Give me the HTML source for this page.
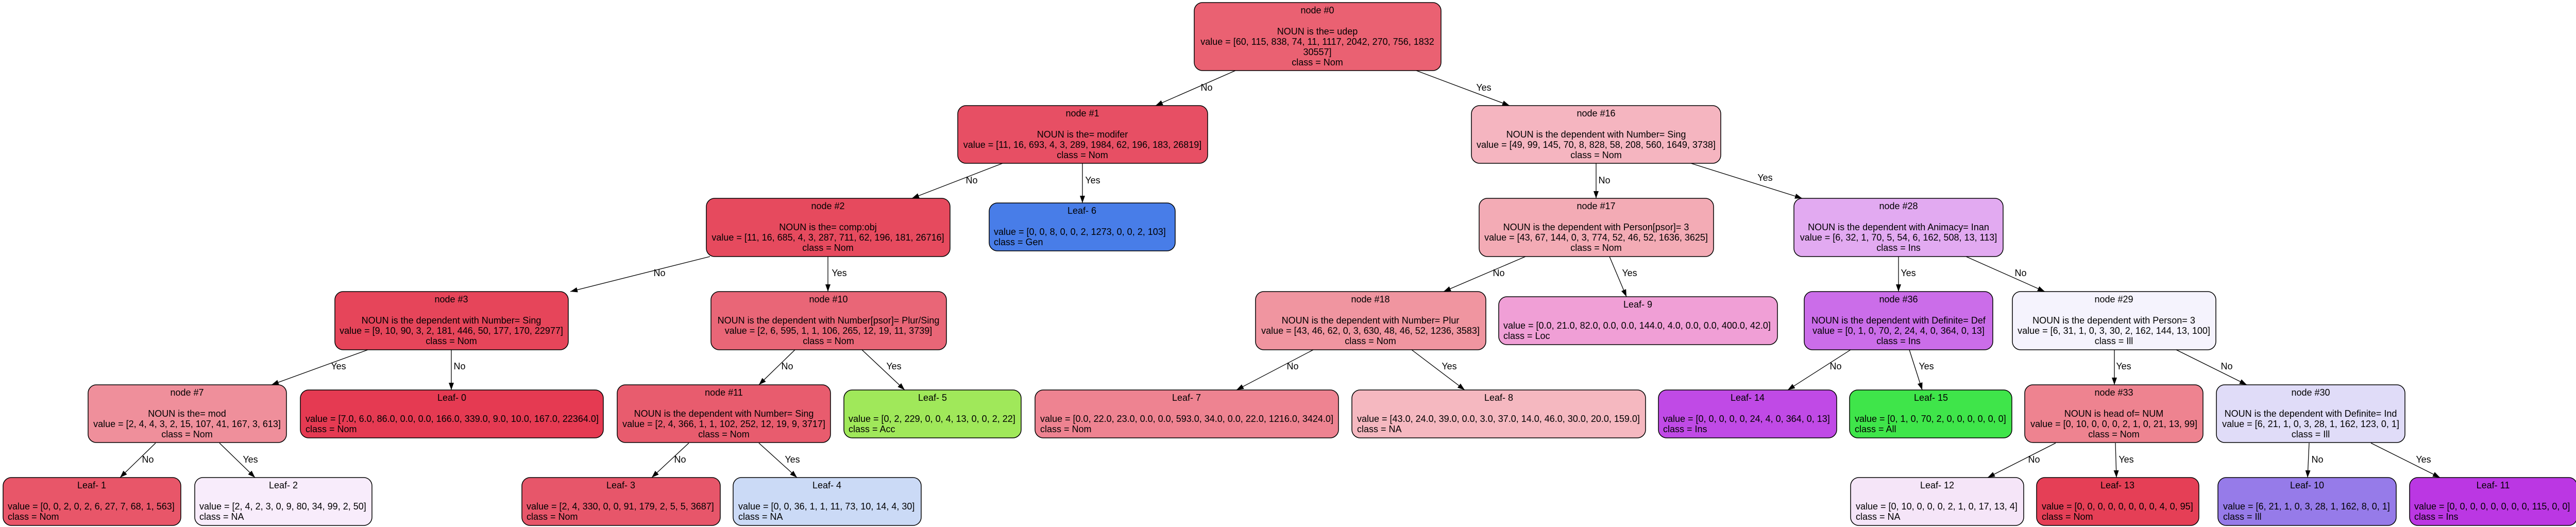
<!DOCTYPE html>
<html><head><meta charset="utf-8"><style>
html,body{margin:0;padding:0;background:#fff;}
svg{display:block;}
text{font-family:"Liberation Sans",Arial,sans-serif;font-size:18px;fill:#000;}
.c{text-anchor:middle;}
rect{stroke:#000;stroke-width:1.5;}
line{stroke:#000;stroke-width:1.3;}
</style></head><body>
<svg width="5009" height="1023" viewBox="0 0 5009 1023" xmlns="http://www.w3.org/2000/svg">
<defs><marker id="a" viewBox="0 0 14 10" refX="14" refY="5" markerWidth="14" markerHeight="10" markerUnits="userSpaceOnUse" orient="auto"><path d="M0,0 L14,5 L0,10 Z" fill="#000"/></marker></defs>

<g marker-end="url(#a)">
<line x1="2398" y1="137" x2="2243" y2="205"/>
<line x1="2749" y1="137" x2="2930" y2="205"/>
<line x1="1946" y1="317" x2="1770" y2="385"/>
<line x1="2101" y1="317" x2="2101" y2="394"/>
<line x1="3098" y1="317" x2="3098" y2="385"/>
<line x1="3282" y1="317" x2="3498" y2="385"/>
<line x1="1378" y1="498" x2="1107" y2="566"/>
<line x1="1607" y1="498" x2="1607" y2="566"/>
<line x1="2961" y1="498" x2="2802" y2="566"/>
<line x1="3124" y1="498" x2="3157" y2="576"/>
<line x1="3685" y1="498" x2="3685" y2="566"/>
<line x1="3816" y1="498" x2="3969" y2="566"/>
<line x1="714" y1="679" x2="527" y2="747"/>
<line x1="876" y1="679" x2="876" y2="757"/>
<line x1="1543" y1="679" x2="1473" y2="747"/>
<line x1="1673" y1="679" x2="1756" y2="757"/>
<line x1="2549" y1="679" x2="2400" y2="757"/>
<line x1="2740" y1="679" x2="2843" y2="757"/>
<line x1="3592" y1="679" x2="3470" y2="757"/>
<line x1="3706" y1="679" x2="3731" y2="757"/>
<line x1="4104" y1="679" x2="4104" y2="747"/>
<line x1="4224" y1="679" x2="4361" y2="747"/>
<line x1="302" y1="860" x2="233" y2="927"/>
<line x1="426" y1="860" x2="495" y2="927"/>
<line x1="1337" y1="860" x2="1265" y2="927"/>
<line x1="1473" y1="860" x2="1547" y2="927"/>
<line x1="3990" y1="860" x2="3858" y2="927"/>
<line x1="4106" y1="860" x2="4108" y2="927"/>
<line x1="4482" y1="860" x2="4479" y2="927"/>
<line x1="4602" y1="860" x2="4736" y2="927"/>
</g>
<g dominant-baseline="central" class="c">
<text class="c" x="2342" y="170">No</text>
<text class="c" x="2880" y="170">Yes</text>
<text class="c" x="1886" y="350">No</text>
<text class="c" x="2121" y="350">Yes</text>
<text class="c" x="3114" y="350">No</text>
<text class="c" x="3426" y="345">Yes</text>
<text class="c" x="1280" y="530">No</text>
<text class="c" x="1629" y="530">Yes</text>
<text class="c" x="2909" y="530">No</text>
<text class="c" x="3163" y="530">Yes</text>
<text class="c" x="3704" y="530">Yes</text>
<text class="c" x="3922" y="530">No</text>
<text class="c" x="657" y="711">Yes</text>
<text class="c" x="892" y="711">No</text>
<text class="c" x="1528" y="711">No</text>
<text class="c" x="1735" y="711">Yes</text>
<text class="c" x="2509" y="711">No</text>
<text class="c" x="2813" y="711">Yes</text>
<text class="c" x="3563" y="711">No</text>
<text class="c" x="3739" y="711">Yes</text>
<text class="c" x="4122" y="711">Yes</text>
<text class="c" x="4322" y="711">No</text>
<text class="c" x="287" y="892">No</text>
<text class="c" x="486" y="892">Yes</text>
<text class="c" x="1320" y="892">No</text>
<text class="c" x="1538" y="892">Yes</text>
<text class="c" x="3948" y="892">No</text>
<text class="c" x="4127" y="892">Yes</text>
<text class="c" x="4498" y="892">No</text>
<text class="c" x="4704" y="892">Yes</text>
</g>

<g dominant-baseline="central">
<rect x="2318" y="5" width="479" height="132" rx="16" fill="#ea6172"/>
<text class="c" x="2557" y="20">node #0</text>
<text class="c" x="2557" y="61">NOUN is the= udep</text>
<text class="c" x="2557" y="81">value = [60, 115, 838, 74, 11, 1117, 2042, 270, 756, 1832</text>
<text class="c" x="2557" y="101">30557]</text>
<text class="c" x="2557" y="121">class = Nom</text>

<rect x="1859" y="205" width="485" height="112" rx="16" fill="#e74f64"/>
<text class="c" x="2101" y="220">node #1</text>
<text class="c" x="2101" y="261">NOUN is the= modifer</text>
<text class="c" x="2101" y="281">value = [11, 16, 693, 4, 3, 289, 1984, 62, 196, 183, 26819]</text>
<text class="c" x="2101" y="301">class = Nom</text>

<rect x="2856" y="205" width="484" height="112" rx="16" fill="#f5b5c0"/>
<text class="c" x="3098" y="220">node #16</text>
<text class="c" x="3098" y="261">NOUN is the dependent with Number= Sing</text>
<text class="c" x="3098" y="281">value = [49, 99, 145, 70, 8, 828, 58, 208, 560, 1649, 3738]</text>
<text class="c" x="3098" y="301">class = Nom</text>

<rect x="1920" y="394" width="361" height="93" rx="16" fill="#487de8"/>
<text class="c" x="2100" y="409">Leaf- 6</text>
<text x="1929" y="450">value = [0, 0, 8, 0, 0, 2, 1273, 0, 0, 2, 103]</text>
<text x="1929" y="470">class = Gen</text>

<rect x="1371" y="385" width="473" height="113" rx="16" fill="#e64a5e"/>
<text class="c" x="1607" y="400">node #2</text>
<text class="c" x="1607" y="441">NOUN is the= comp:obj</text>
<text class="c" x="1607" y="461">value = [11, 16, 685, 4, 3, 287, 711, 62, 196, 181, 26716]</text>
<text class="c" x="1607" y="481">class = Nom</text>

<rect x="2871" y="385" width="455" height="113" rx="16" fill="#f3abb5"/>
<text class="c" x="3098" y="400">node #17</text>
<text class="c" x="3098" y="441">NOUN is the dependent with Person[psor]= 3</text>
<text class="c" x="3098" y="461">value = [43, 67, 144, 0, 3, 774, 52, 46, 52, 1636, 3625]</text>
<text class="c" x="3098" y="481">class = Nom</text>

<rect x="3482" y="385" width="406" height="113" rx="16" fill="#e2aaf1"/>
<text class="c" x="3685" y="400">node #28</text>
<text class="c" x="3685" y="441">NOUN is the dependent with Animacy= Inan</text>
<text class="c" x="3685" y="461">value = [6, 32, 1, 70, 5, 54, 6, 162, 508, 13, 113]</text>
<text class="c" x="3685" y="481">class = Ins</text>

<rect x="650" y="566" width="453" height="113" rx="16" fill="#e6455a"/>
<text class="c" x="876" y="581">node #3</text>
<text class="c" x="876" y="622">NOUN is the dependent with Number= Sing</text>
<text class="c" x="876" y="642">value = [9, 10, 90, 3, 2, 181, 446, 50, 177, 170, 22977]</text>
<text class="c" x="876" y="662">class = Nom</text>

<rect x="1380" y="566" width="457" height="113" rx="16" fill="#e96677"/>
<text class="c" x="1608" y="581">node #10</text>
<text class="c" x="1608" y="622">NOUN is the dependent with Number[psor]= Plur/Sing</text>
<text class="c" x="1608" y="642">value = [2, 6, 595, 1, 1, 106, 265, 12, 19, 11, 3739]</text>
<text class="c" x="1608" y="662">class = Nom</text>

<rect x="2437" y="566" width="447" height="113" rx="16" fill="#f095a0"/>
<text class="c" x="2660" y="581">node #18</text>
<text class="c" x="2660" y="622">NOUN is the dependent with Number= Plur</text>
<text class="c" x="2660" y="642">value = [43, 46, 62, 0, 3, 630, 48, 46, 52, 1236, 3583]</text>
<text class="c" x="2660" y="662">class = Nom</text>

<rect x="2909" y="576" width="541" height="93" rx="16" fill="#f09fd6"/>
<text class="c" x="3179" y="591">Leaf- 9</text>
<text x="2918" y="632">value = [0.0, 21.0, 82.0, 0.0, 0.0, 144.0, 4.0, 0.0, 0.0, 400.0, 42.0]</text>
<text x="2918" y="652">class = Loc</text>

<rect x="3502" y="566" width="366" height="113" rx="16" fill="#cb6de9"/>
<text class="c" x="3685" y="581">node #36</text>
<text class="c" x="3685" y="622">NOUN is the dependent with Definite= Def</text>
<text class="c" x="3685" y="642">value = [0, 1, 0, 70, 2, 24, 4, 0, 364, 0, 13]</text>
<text class="c" x="3685" y="662">class = Ins</text>

<rect x="3906" y="566" width="395" height="113" rx="16" fill="#f5f3fd"/>
<text class="c" x="4103" y="581">node #29</text>
<text class="c" x="4103" y="622">NOUN is the dependent with Person= 3</text>
<text class="c" x="4103" y="642">value = [6, 31, 1, 0, 3, 30, 2, 162, 144, 13, 100]</text>
<text class="c" x="4103" y="662">class = Ill</text>

<rect x="171" y="747" width="385" height="112" rx="16" fill="#ef8f9b"/>
<text class="c" x="363" y="762">node #7</text>
<text class="c" x="363" y="803">NOUN is the= mod</text>
<text class="c" x="363" y="823">value = [2, 4, 4, 3, 2, 15, 107, 41, 167, 3, 613]</text>
<text class="c" x="363" y="843">class = Nom</text>

<rect x="583" y="757" width="588" height="93" rx="16" fill="#e53a52"/>
<text class="c" x="877" y="772">Leaf- 0</text>
<text x="593" y="813">value = [7.0, 6.0, 86.0, 0.0, 0.0, 166.0, 339.0, 9.0, 10.0, 167.0, 22364.0]</text>
<text x="593" y="833">class = Nom</text>

<rect x="1198" y="747" width="414" height="112" rx="16" fill="#e85c6e"/>
<text class="c" x="1405" y="762">node #11</text>
<text class="c" x="1405" y="803">NOUN is the dependent with Number= Sing</text>
<text class="c" x="1405" y="823">value = [2, 4, 366, 1, 1, 102, 252, 12, 19, 9, 3717]</text>
<text class="c" x="1405" y="843">class = Nom</text>

<rect x="1638" y="757" width="344" height="93" rx="16" fill="#a0e85a"/>
<text class="c" x="1810" y="772">Leaf- 5</text>
<text x="1647" y="813">value = [0, 2, 229, 0, 0, 4, 13, 0, 0, 2, 22]</text>
<text x="1647" y="833">class = Acc</text>

<rect x="2009" y="757" width="589" height="93" rx="16" fill="#ee8391"/>
<text class="c" x="2303" y="772">Leaf- 7</text>
<text x="2019" y="813">value = [0.0, 22.0, 23.0, 0.0, 0.0, 593.0, 34.0, 0.0, 22.0, 1216.0, 3424.0]</text>
<text x="2019" y="833">class = Nom</text>

<rect x="2624" y="757" width="570" height="93" rx="16" fill="#f5b8c0"/>
<text class="c" x="2909" y="772">Leaf- 8</text>
<text x="2634" y="813">value = [43.0, 24.0, 39.0, 0.0, 3.0, 37.0, 14.0, 46.0, 30.0, 20.0, 159.0]</text>
<text x="2634" y="833">class = NA</text>

<rect x="3219" y="757" width="346" height="93" rx="16" fill="#c04ae6"/>
<text class="c" x="3392" y="772">Leaf- 14</text>
<text x="3228" y="813">value = [0, 0, 0, 0, 0, 24, 4, 0, 364, 0, 13]</text>
<text x="3228" y="833">class = Ins</text>

<rect x="3590" y="757" width="315" height="93" rx="16" fill="#3fe54a"/>
<text class="c" x="3748" y="772">Leaf- 15</text>
<text x="3600" y="813">value = [0, 1, 0, 70, 2, 0, 0, 0, 0, 0, 0]</text>
<text x="3600" y="833">class = All</text>

<rect x="3930" y="747" width="346" height="112" rx="16" fill="#ee8390"/>
<text class="c" x="4103" y="762">node #33</text>
<text class="c" x="4103" y="803">NOUN is head of= NUM</text>
<text class="c" x="4103" y="823">value = [0, 10, 0, 0, 0, 2, 1, 0, 21, 13, 99]</text>
<text class="c" x="4103" y="843">class = Nom</text>

<rect x="4302" y="747" width="366" height="112" rx="16" fill="#e0dcf8"/>
<text class="c" x="4485" y="762">node #30</text>
<text class="c" x="4485" y="803">NOUN is the dependent with Definite= Ind</text>
<text class="c" x="4485" y="823">value = [6, 21, 1, 0, 3, 28, 1, 162, 123, 0, 1]</text>
<text class="c" x="4485" y="843">class = Ill</text>

<rect x="6" y="927" width="345" height="93" rx="16" fill="#e85669"/>
<text class="c" x="178" y="942">Leaf- 1</text>
<text x="15" y="983">value = [0, 0, 2, 0, 2, 6, 27, 7, 68, 1, 563]</text>
<text x="15" y="1003">class = Nom</text>

<rect x="378" y="927" width="344" height="93" rx="16" fill="#f8ecfb"/>
<text class="c" x="550" y="942">Leaf- 2</text>
<text x="387" y="983">value = [2, 4, 2, 3, 0, 9, 80, 34, 99, 2, 50]</text>
<text x="387" y="1003">class = NA</text>

<rect x="1013" y="927" width="385" height="93" rx="16" fill="#e7566a"/>
<text class="c" x="1205" y="942">Leaf- 3</text>
<text x="1022" y="983">value = [2, 4, 330, 0, 0, 91, 179, 2, 5, 5, 3687]</text>
<text x="1022" y="1003">class = Nom</text>

<rect x="1423" y="927" width="365" height="93" rx="16" fill="#cbdaf6"/>
<text class="c" x="1605" y="942">Leaf- 4</text>
<text x="1433" y="983">value = [0, 0, 36, 1, 1, 11, 73, 10, 14, 4, 30]</text>
<text x="1433" y="1003">class = NA</text>

<rect x="3592" y="927" width="336" height="93" rx="16" fill="#f5e5f8"/>
<text class="c" x="3760" y="942">Leaf- 12</text>
<text x="3602" y="983">value = [0, 10, 0, 0, 0, 2, 1, 0, 17, 13, 4]</text>
<text x="3602" y="1003">class = NA</text>

<rect x="3953" y="927" width="315" height="93" rx="16" fill="#e53f56"/>
<text class="c" x="4110" y="942">Leaf- 13</text>
<text x="3963" y="983">value = [0, 0, 0, 0, 0, 0, 0, 0, 4, 0, 95]</text>
<text x="3963" y="1003">class = Nom</text>

<rect x="4305" y="927" width="346" height="93" rx="16" fill="#967be9"/>
<text class="c" x="4478" y="942">Leaf- 10</text>
<text x="4315" y="983">value = [6, 21, 1, 0, 3, 28, 1, 162, 8, 0, 1]</text>
<text x="4315" y="1003">class = Ill</text>

<rect x="4677" y="927" width="325" height="93" rx="16" fill="#bb37e3"/>
<text class="c" x="4839" y="942">Leaf- 11</text>
<text x="4686" y="983">value = [0, 0, 0, 0, 0, 0, 0, 0, 115, 0, 0]</text>
<text x="4686" y="1003">class = Ins</text>
</g>
</svg>
</body></html>
